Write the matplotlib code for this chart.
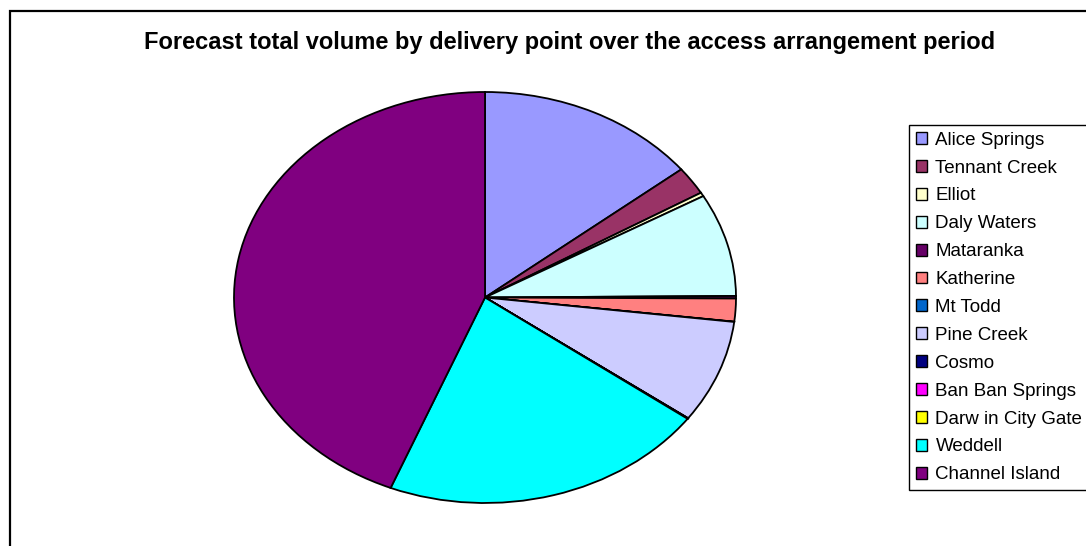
import matplotlib
matplotlib.use("Agg")
import matplotlib.pyplot as plt
from matplotlib.patches import Rectangle

plt.rcParams['font.family'] = ['Liberation Sans', 'DejaVu Sans']

labels = ["Alice Springs", "Tennant Creek", "Elliot", "Daly Waters", "Mataranka",
          "Katherine", "Mt Todd", "Pine Creek", "Cosmo", "Ban Ban Springs",
          "Darw in City Gate", "Weddell", "Channel Island"]
values = [14.3, 2.2, 0.3, 8.1, 0.2, 1.8, 0.02, 8.1, 0.02, 0.02, 0.02, 21.1, 43.9]
colors = ["#9999FF", "#993366", "#FFFFCC", "#CCFFFF", "#660066", "#FF8080",
          "#0066CC", "#CCCCFF", "#000080", "#FF00FF", "#FFFF00", "#00FFFF", "#800080"]
title = "Forecast total volume by delivery point over the access arrangement period"

W, H = 1086, 546
fig = plt.figure(figsize=(W / 100, H / 100), dpi=100)

# outer chart border (left/top visible, right/bottom cropped)
fig.add_artist(Rectangle((9.5 / W, -0.1), 1.2, (1 - 10.5 / H) + 0.1,
                         transform=fig.transFigure, fill=False,
                         edgecolor="black", linewidth=1.6))

ax = fig.add_axes([234 / W, 1 - 503 / H, 502 / W, 411 / H])
wedges, _ = ax.pie(values, colors=colors, startangle=90, counterclock=False,
                   wedgeprops=dict(edgecolor="black", linewidth=1.3))
ax.set_aspect("auto")
ax.set_xlim(-1, 1)
ax.set_ylim(-1, 1)
ax.axis("off")

fig.text(570 / W, 1 - 43 / H, title, ha="center", va="center",
         fontsize=17, fontweight="bold")

leg = fig.legend(wedges, labels, loc="upper left",
                 bbox_to_anchor=(909 / W, 1 - 125 / H), borderaxespad=0,
                 fontsize=13.5, frameon=True, fancybox=False, edgecolor="black",
                 framealpha=1, borderpad=0.36, labelspacing=0.58,
                 handlelength=0.6, handleheight=0.6, handletextpad=0.45)
leg.get_frame().set_linewidth(1.0)
for h in leg.legend_handles:
    h.set_linewidth(1.0)

fig.savefig("out.png", dpi=100)
